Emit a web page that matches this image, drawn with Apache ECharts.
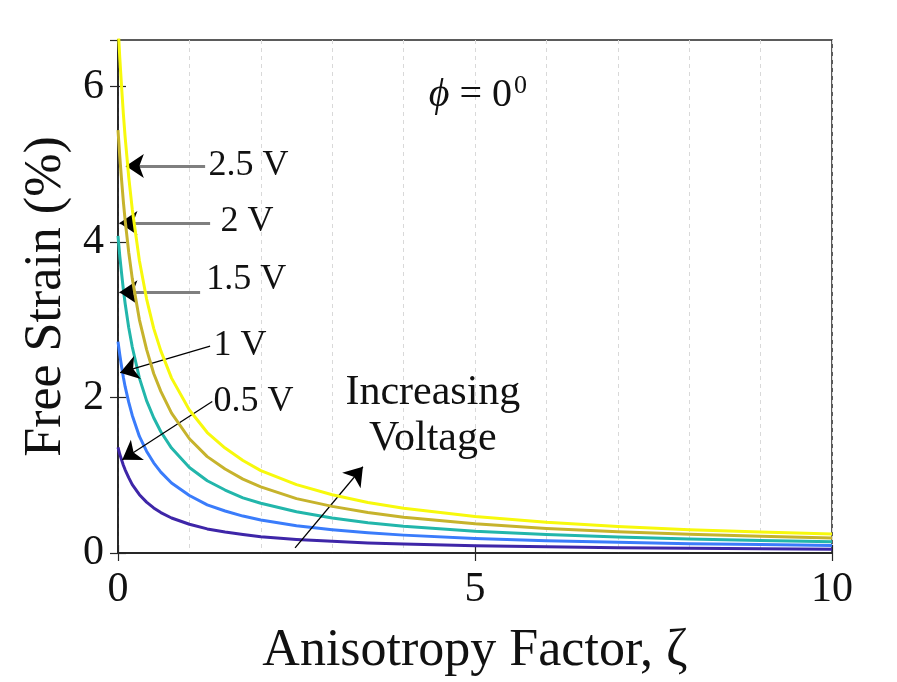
<!DOCTYPE html>
<html>
<head>
    <meta charset="UTF-8">
    <title>Free Strain vs Anisotropy Factor</title>
    <script src="https://cdn.jsdelivr.net/npm/echarts@6/dist/echarts.min.js"></script>
    <style>
        html, body { margin: 0; padding: 0; background: #fff; }
        #chart { width: 897px; height: 682px; }
    </style>
</head>
<body>
<div id="chart"></div>
<script type="text/javascript">
    // anisotropy factor samples (x)
    var zeta = [0, 0.025, 0.05, 0.075, 0.1, 0.15, 0.2, 0.3, 0.4, 0.5, 0.6, 0.75, 1, 1.25, 1.5, 1.75, 2, 2.5, 3, 3.5, 4, 5, 6, 7, 8, 9, 10];

    // free strain (%), one array per voltage
    var strain05 = [1.36, 1.27, 1.20, 1.13, 1.07, 0.97, 0.88, 0.75, 0.655, 0.58, 0.52, 0.45, 0.37, 0.31, 0.27, 0.238, 0.21, 0.175, 0.15, 0.13, 0.115, 0.094, 0.079, 0.068, 0.060, 0.054, 0.049];
    var strain10 = [2.72, 2.55, 2.40, 2.26, 2.14, 1.94, 1.77, 1.50, 1.31, 1.16, 1.04, 0.90, 0.74, 0.62, 0.54, 0.475, 0.425, 0.35, 0.30, 0.26, 0.23, 0.188, 0.158, 0.137, 0.120, 0.108, 0.097];
    var strain15 = [4.08, 3.82, 3.60, 3.39, 3.21, 2.90, 2.65, 2.25, 1.96, 1.74, 1.56, 1.35, 1.10, 0.93, 0.81, 0.71, 0.64, 0.53, 0.45, 0.39, 0.345, 0.28, 0.237, 0.205, 0.18, 0.161, 0.146];
    var strain20 = [5.44, 5.10, 4.80, 4.52, 4.28, 3.87, 3.53, 3.00, 2.62, 2.31, 2.08, 1.80, 1.47, 1.24, 1.08, 0.95, 0.85, 0.70, 0.60, 0.52, 0.46, 0.375, 0.316, 0.273, 0.24, 0.215, 0.194];
    var strain25 = [6.80, 6.37, 6.00, 5.65, 5.35, 4.84, 4.42, 3.76, 3.27, 2.89, 2.60, 2.25, 1.84, 1.55, 1.35, 1.19, 1.06, 0.88, 0.75, 0.65, 0.575, 0.47, 0.395, 0.342, 0.30, 0.269, 0.243];

    var voltageNames = ['0.5 V', '1 V', '1.5 V', '2 V', '2.5 V'];
    var lineColors = ['#3e26a8', '#3a7cfb', '#22b6ab', '#c6b32c', '#f7f90c'];
    var xTicks = [0, 5, 10];
    var yTicks = [0, 2, 4, 6];

    var serif = '"Liberation Serif", "DejaVu Serif", serif';
    var ink = '#262626';

    var allStrain = [strain05, strain10, strain15, strain20, strain25];

    var series = allStrain.map(function (vals, k) {
        return {
            name: voltageNames[k],
            type: 'line',
            data: zeta.map(function (z, i) { return [z, vals[i]]; }),
            showSymbol: false,
            smooth: false,
            clip: true,
            lineStyle: { color: lineColors[k], width: 3, join: 'round' },
            itemStyle: { color: lineColors[k] },
            z: 2 + k
        };
    });

    // black arrow from -> to
    function arrow(from, to) {
        return [
            { coord: from, symbol: 'none', lineStyle: { color: '#000', width: 1.3, type: 'solid' } },
            { coord: to, symbol: 'arrow' }
        ];
    }
    // grey shaft without head (head is drawn by a short black arrow)
    function shaft(from, to) {
        return [
            { coord: from, symbol: 'none', lineStyle: { color: '#7f7f7f', width: 3, type: 'solid' } },
            { coord: to, symbol: 'none' }
        ];
    }

    // arrows and text annotations
    series.push({
        name: 'notes',
        type: 'line',
        data: [],
        silent: true,
        z: 10,
        markLine: {
            silent: true,
            symbol: ['none', 'arrow'],
            symbolSize: 18,
            label: { show: false },
            animation: false,
            data: [
                shaft([1.22, 4.98], [0.2, 4.98]),
                arrow([0.3, 4.98], [0.11, 4.98]),
                shaft([1.29, 4.245], [0.12, 4.245]),
                arrow([0.2, 4.245], [0.02, 4.245]),
                shaft([1.15, 3.355], [0.12, 3.355]),
                arrow([0.2, 3.355], [0.02, 3.355]),
                arrow([1.29, 2.66], [0.03, 2.32]),
                arrow([1.32, 1.95], [0.06, 1.20]),
                arrow([2.48, 0.065], [3.43, 1.11])
            ]
        },
        markPoint: {
            silent: true,
            symbol: 'circle',
            symbolSize: 1,
            itemStyle: { color: 'rgba(0,0,0,0)' },
            animation: false,
            label: {
                show: true,
                position: 'right',
                distance: 0,
                formatter: '{b}',
                color: '#111',
                fontFamily: serif,
                fontSize: 36
            },
            data: [
                { name: '2.5 V', coord: [1.26, 4.98] },
                { name: '2 V', coord: [1.43, 4.27] },
                { name: '1.5 V', coord: [1.23, 3.52] },
                { name: '1 V', coord: [1.33, 2.67] },
                { name: '0.5 V', coord: [1.33, 1.95] },
                {
                    name: 'Increasing\nVoltage', coord: [4.41, 1.76],
                    label: { position: 'inside', align: 'center', fontSize: 42, lineHeight: 46 }
                },
                {
                    name: 'phi', coord: [5.04, 5.88],
                    label: {
                        position: 'inside', align: 'center',
                        formatter: '{i|\u03d5} = 0{s|0}',
                        fontSize: 40,
                        rich: {
                            i: { fontFamily: serif, fontStyle: 'italic', fontSize: 40, color: '#111' },
                            s: { fontFamily: serif, fontSize: 26, color: '#111', verticalAlign: 'top', padding: [0, 0, 20, 2] }
                        }
                    }
                }
            ]
        }
    });

    var chart = echarts.init(document.getElementById('chart'), null, { renderer: 'canvas' });

    chart.setOption({
        animation: false,
        backgroundColor: '#fff',
        grid: {
            left: 118, right: 65, top: 40, bottom: 129,
            show: true, borderColor: ink, borderWidth: 1.5, backgroundColor: '#fff'
        },
        xAxis: [
            {
                type: 'value', min: 0, max: 10, interval: 5,
                name: 'Anisotropy Factor, \u03b6',
                nameLocation: 'middle', nameGap: 72,
                nameTextStyle: { fontFamily: serif, fontSize: 52, color: '#111' },
                axisLine: { show: true, onZero: false, lineStyle: { color: ink, width: 1.5 } },
                axisTick: { show: true, inside: true, length: 8, lineStyle: { color: ink, width: 1.2 } },
                axisLabel: {
                    margin: 16, fontFamily: serif, fontSize: 42, color: '#111',
                    formatter: function (v) { return xTicks.indexOf(v) >= 0 ? String(v) : ''; }
                },
                splitLine: { show: true, lineStyle: { color: '#d9d9d9', type: [4, 4], width: 1 } },
                minorTick: { show: false, splitNumber: 5 },
                minorSplitLine: { show: true, lineStyle: { color: '#d9d9d9', type: [4, 4], width: 1 } }
            },
            {
                type: 'value', min: 0, max: 10, interval: 5, position: 'top',
                axisLine: { show: true, lineStyle: { color: ink, width: 1.5 } },
                axisTick: { show: true, inside: true, length: 8, lineStyle: { color: ink, width: 1.2 } },
                axisLabel: { show: false },
                splitLine: { show: false }
            }
        ],
        yAxis: [
            {
                type: 'value', min: 0, max: 6.6, interval: 2,
                name: 'Free Strain (%)',
                nameLocation: 'middle', nameGap: 46,
                nameTextStyle: { fontFamily: serif, fontSize: 52, color: '#111' },
                axisLine: { show: true, onZero: false, lineStyle: { color: ink, width: 1.5 } },
                axisTick: { show: true, inside: true, length: 8, lineStyle: { color: ink, width: 1.2 } },
                axisLabel: {
                    margin: 14, fontFamily: serif, fontSize: 42, color: '#111', showMaxLabel: false,
                    formatter: function (v) { return yTicks.indexOf(v) >= 0 ? String(v) : ''; }
                },
                splitLine: { show: false }
            },
            {
                type: 'value', min: 0, max: 6.6, interval: 2, position: 'right',
                axisLine: { show: true, lineStyle: { color: ink, width: 1.5 } },
                axisTick: { show: true, inside: true, length: 8, lineStyle: { color: ink, width: 1.2 } },
                axisLabel: { show: false },
                splitLine: { show: false }
            }
        ],
        series: series
    });
</script>
</body>
</html>
